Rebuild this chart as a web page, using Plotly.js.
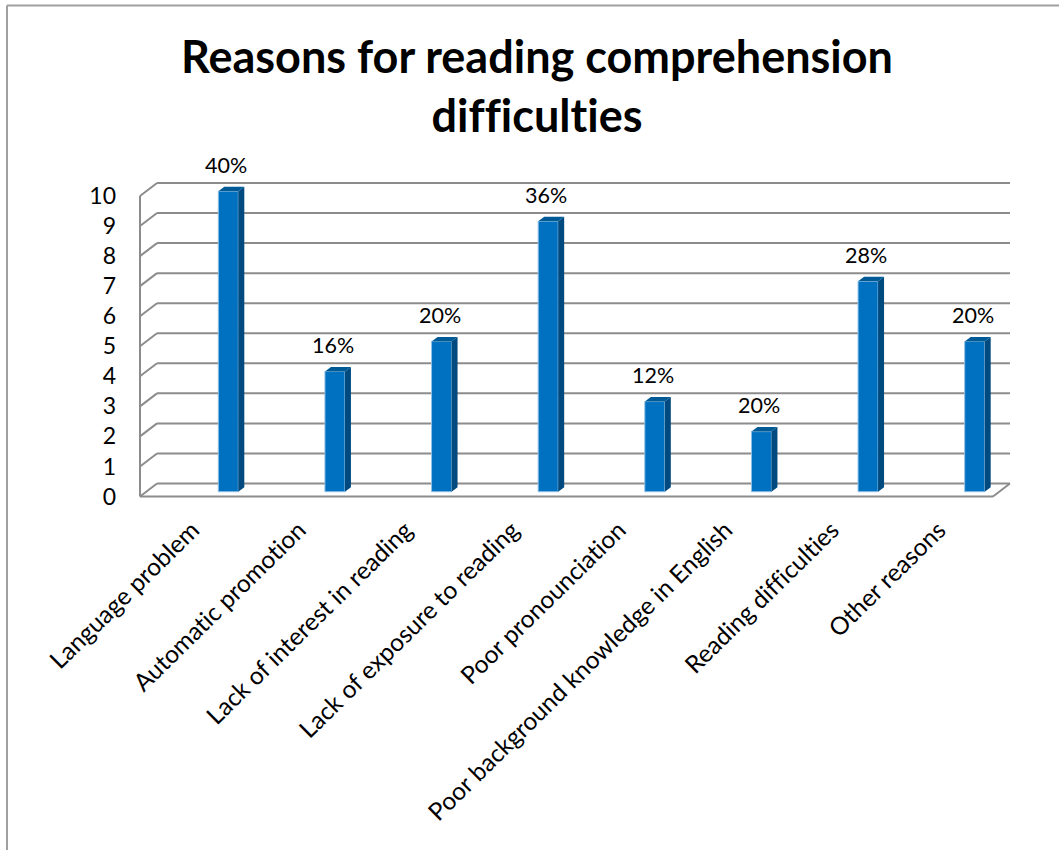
<!DOCTYPE html>
<html>
<head>
<meta charset="utf-8">
<script src="https://cdn.plot.ly/plotly-3.0.1.min.js"></script>
<style>html,body{margin:0;padding:0;background:#fff}#chart{width:1059px;height:850px}text{font-variant-ligatures:none;font-feature-settings:"liga" 0}</style>
</head>
<body>
<div id="chart"></div>
<script>
var categories = ["Language problem","Automatic promotion","Lack of interest in reading","Lack of exposure to reading","Poor pronounciation","Poor background knowledge in English","Reading difficulties","Other reasons"];
var values = [10,4,5,9,3,2,7,5];
var percentLabels = ["40%","16%","20%","36%","12%","20%","28%","20%"];
var yTicks = [0,1,2,3,4,5,6,7,8,9,10];

var W = 1059, H = 850;
var L = 130, R = 1015, T = 175, B = 505;       // plot frame in page pixels
var catW = (993 - 140) / 8, yScale = 30.05;    // scale of the 3D box
var frontLeft = -0.5, frontRight = 7.5;        // category extent of the front floor edge
var wallDx = (157 - 140) / catW, wallDy = 13 / yScale;
var xMin = frontLeft - (140 - L) / catW, xMax = frontLeft + (R - 140) / catW;
var yMin = -(B - 496.5) / yScale, yMax = (496.5 - T) / yScale;
var barShift = (228.3 - 193.3) / catW, barW = 20 / catW;
var baseV = 4.8 / yScale;
var sideDx = 6 / catW, sideDy = 4.5 / yScale;
var GRID = '#8c8c8c', FRONT = '#0070c0', SIDE = '#004a7f', TOP = '#005a96', BORDER = '#a0a0a0';

var xs = categories.map(function(_, i){ return i; });
var traces = [];

// bar side and top faces, derived from values
xs.forEach(function(i){
  var x0 = i + barShift - barW/2, x1 = i + barShift + barW/2, v = values[i] + baseV;
  traces.push({type:'scatter', mode:'lines', fill:'toself', fillcolor:SIDE, line:{width:0, color:SIDE},
    x:[x1, x1 + sideDx, x1 + sideDx, x1, x1], y:[baseV, baseV + sideDy, v + sideDy, v, baseV], hoverinfo:'skip', showlegend:false});
  traces.push({type:'scatter', mode:'lines', fill:'toself', fillcolor:TOP, line:{width:0, color:TOP},
    x:[x0, x0 + sideDx, x1 + sideDx, x1, x0], y:[v, v + sideDy, v + sideDy, v, v], hoverinfo:'skip', showlegend:false});
});

// bar front faces
traces.push({type:'bar', x:xs.map(function(i){return i + barShift;}), y:values, base:baseV, width:barW,
  marker:{color:FRONT, line:{color:'#8fc0e6', width:1}}, showlegend:false});

var annotations = xs.map(function(i){
  return {x:i + barShift, y:values[i] + baseV + sideDy, xref:'x', yref:'y', text:percentLabels[i], showarrow:false,
    yanchor:'bottom', yshift:7, xshift:-2, font:{family:'Lato, sans-serif', size:21.5, color:'#000'}};
});

// box lines drawn below the bars
var shapes = [];
function seg(x0, y0, x1, y1) {
  shapes.push({type:'line', layer:'below', xref:'x', yref:'y', x0:x0, y0:y0, x1:x1, y1:y1, line:{color:GRID, width:2}});
}
var backLeft = frontLeft + wallDx, backRight = frontRight + wallDx;
yTicks.forEach(function(t){
  seg(frontLeft, t, backLeft, t + wallDy);
  seg(backLeft, t + wallDy, backRight, t + wallDy);
});
seg(frontLeft, 0, frontLeft, yTicks[yTicks.length-1]);
seg(frontLeft, 0, frontRight, 0);
seg(frontRight, 0, backRight, wallDy);

// outer chart border
function px(x){ return (x - L) / (R - L); }
function py(y){ return (B - y) / (B - T); }
shapes.push({type:'line', xref:'paper', yref:'paper', x0:px(7), x1:px(7), y0:py(5.5), y1:py(H), line:{color:BORDER, width:2}});
shapes.push({type:'line', xref:'paper', yref:'paper', x0:px(7), x1:px(W), y0:py(5.5), y1:py(5.5), line:{color:BORDER, width:2}});

var layout = {
  width:W, height:H, paper_bgcolor:'#fff', plot_bgcolor:'rgba(0,0,0,0)',
  margin:{l:L, r:W-R, t:T, b:H-B, pad:0},
  showlegend:false,
  title:{text:'Reasons for reading comprehension<br>difficulties', x:537/W, xanchor:'center', y:1-73/H, yanchor:'top',
    font:{family:'Lato, sans-serif', size:45, color:'#000', weight:700}},
  xaxis:{type:'linear', range:[xMin, xMax], tickmode:'array', tickvals:xs, ticktext:categories, tickangle:-44.5,
    showgrid:false, zeroline:false, showline:false, ticks:'', ticklabelstandoff:5, ticklabelshift:-1,
    tickfont:{family:'Lato, sans-serif', size:24.5, color:'#000'}},
  yaxis:{range:[yMin, yMax], tickmode:'array', tickvals:yTicks, showgrid:false, zeroline:false, showline:false, ticks:'',
    ticklabelstandoff:13, tickfont:{family:'Lato, sans-serif', size:23, color:'#000'}},
  shapes:shapes,
  annotations:annotations
};
Plotly.newPlot('chart', traces, layout, {displayModeBar:false, responsive:false});
</script>
</body>
</html>
